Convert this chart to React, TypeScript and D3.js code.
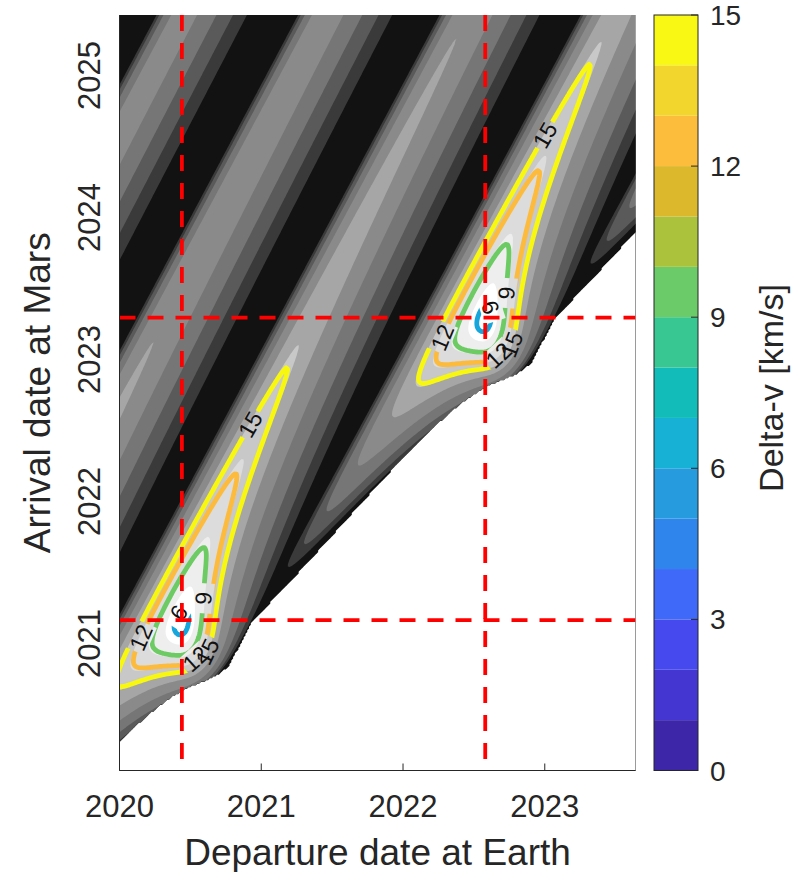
import React, { useMemo } from 'react';
import * as d3 from 'd3';

// ---------------- data ----------------
const departureTicks = [2020, 2021, 2022, 2023];
const arrivalTicks = [2021, 2022, 2023, 2024, 2025];
const departureRange = [2020.0, 2023.64];
const arrivalRange = [2020.106, 2025.426];
const hohmannDepartures = [2020.44, 2022.58];
const hohmannArrivals = [2021.165, 2023.295];
const lineLevels = [6, 9, 12, 15];
const lineColors = ['#17a6dc', '#6ccb62', '#fcbb3c', '#f7f70f'];
const colorbarTicks = [0, 3, 6, 9, 12, 15];
const colorbarColors = [
  '#3d26a8', '#4436d0', '#4649ee', '#3e69f9', '#2f85ec', '#269cdf', '#16b1d4', '#12bdb9',
  '#38c693', '#6bcb69', '#abc23c', '#dcb92c', '#fbbd3b', '#f3d62d', '#f9f815',
];
const fillThresholds = [7, 9.5, 12.5, 15.5, 20, 28, 38, 48, 57, 1e5];
const fillGrays = ['#eeeeee', '#dcdcdc', '#c8c8c8', '#a6a6a6', '#8a8a8a', '#767676', '#5a5a5a', '#3a3a3a', '#121212', '#ffffff'];
const labelLevel = [15, 12, 9, 6, 12, 15, 15, 12, 9, 6, 12, 15];
const labelDeparture = [2020.921, 2020.166, 2020.617, 2020.448, 2020.519, 2020.589, 2023.003, 2022.283, 2022.756, 2022.608, 2022.65, 2022.756];
const labelArrival = [2022.539, 2021.039, 2021.32, 2021.201, 2020.912, 2020.954, 2024.581, 2023.158, 2023.468, 2023.37, 2023.053, 2023.116];
const planetRadiusAU = [1.0, 1.52368];
const planetPeriodYr = [1.0, 1.88085];

// ---------------- physics (circular coplanar Lambert) ----------------
const MU = 4 * Math.PI * Math.PI; // AU^3/yr^2
const AUYR = 4.74047; // km/s per AU/yr

function tofNd(x: number, lam: number) {
  const om = 1 - x * x;
  const y = Math.sqrt(Math.max(0, 1 - lam * lam * om));
  if (Math.abs(om) < 1e-7) return (2 / 3) * (1 - lam * lam * lam);
  if (om > 0) {
    const cp = Math.min(1, Math.max(-1, x * y + lam * om));
    const psi = Math.acos(cp);
    return (psi / Math.sqrt(om) - x + lam * y) / om;
  }
  const ch = Math.max(1, x * y - lam * (x * x - 1));
  const psi = Math.acosh(ch);
  return (-psi / Math.sqrt(-om) + x - lam * y) / -om;
}

// returns total delta-v in km/s, or a huge value where no elliptic transfer exists
function deltaV(td: number, ta: number) {
  const tof = ta - td;
  if (tof <= 0.01) return 1e6;
  const r1 = planetRadiusAU[0], r2 = planetRadiusAU[1];
  const aH = (r1 + r2) / 2;
  const tH = 0.5 * Math.pow(aH, 1.5);
  const thE = (2 * Math.PI * (td - hohmannDepartures[0])) / planetPeriodYr[0];
  const thM = Math.PI + (2 * Math.PI * (ta - (hohmannDepartures[0] + tH))) / planetPeriodYr[1];
  let dth = (thM - thE) % (2 * Math.PI);
  if (dth < 0) dth += 2 * Math.PI;
  const c = Math.sqrt(r1 * r1 + r2 * r2 - 2 * r1 * r2 * Math.cos(dth));
  const s = (r1 + r2 + c) / 2;
  let lam = Math.sqrt(Math.max(0, 1 - c / s));
  if (dth > Math.PI) lam = -lam;
  const T = Math.sqrt((2 * MU) / (s * s * s)) * tof;
  if (T <= (2 / 3) * (1 - lam * lam * lam)) return 1e6;
  let lo = -25, hi = Math.log(2);
  for (let k = 0; k < 50; k++) {
    const mid = (lo + hi) / 2;
    const x = Math.exp(mid) - 1;
    if (tofNd(x, lam) > T) lo = mid; else hi = mid;
  }
  const x = Math.exp((lo + hi) / 2) - 1;
  const y = Math.sqrt(Math.max(0, 1 - lam * lam * (1 - x * x)));
  const gamma = Math.sqrt((MU * s) / 2);
  const rho = (r1 - r2) / Math.max(c, 1e-9);
  const sigma = Math.sqrt(Math.max(0, 1 - rho * rho));
  const vr1 = (gamma * ((lam * y - x) - rho * (lam * y + x))) / r1;
  const vr2 = (-gamma * ((lam * y - x) + rho * (lam * y + x))) / r2;
  const vt1 = (gamma * sigma * (y + lam * x)) / r1;
  const vt2 = (gamma * sigma * (y + lam * x)) / r2;
  const vE = Math.sqrt(MU / r1), vM = Math.sqrt(MU / r2);
  return (Math.hypot(vr1, vt1 - vE) + Math.hypot(vr2, vt2 - vM)) * AUYR;
}

// ---------------- layout ----------------
const W = 792, H = 872;
const PL = 119.5, PR = 635.5, PT = 15, PB = 770.5;
const CBL = 654, CBR = 698;
const FONT = '"Liberation Sans", Arial, Helvetica, sans-serif';
const INK = '#262626';

export default function App() {
  const xScale = d3.scaleLinear().domain(departureRange).range([PL, PR]);
  const yScale = d3.scaleLinear().domain(arrivalRange).range([PB, PT]);

  const model = useMemo(() => {
    const step = 0.0125;
    const gd0 = departureRange[0] - 0.1, gd1 = departureRange[1] + 0.1;
    const ga0 = arrivalRange[0] - 0.1, ga1 = arrivalRange[1] + 0.1;
    const nx = Math.round((gd1 - gd0) / step) + 1;
    const ny = Math.round((ga1 - ga0) / step) + 1;
    const arr: number[] = new Array(nx * ny);
    for (let j = 0; j < ny; j++) {
      const ta = ga0 + j * step;
      for (let i = 0; i < nx; i++) {
        arr[j * nx + i] = deltaV(gd0 + i * step, ta);
      }
    }
    const proj = d3.geoTransform({
      point(x: number, y: number) {
        (this as any).stream.point(xScale(gd0 + (x - 0.5) * step), yScale(ga0 + (y - 0.5) * step));
      },
    });
    const path = d3.geoPath(proj);
    const fills = d3.contours().size([nx, ny]).thresholds(fillThresholds)(arr);
    const lines = d3.contours().size([nx, ny]).thresholds(lineLevels)(arr);
    const toPx = (p: number[]) => [xScale(gd0 + (p[0] - 0.5) * step), yScale(ga0 + (p[1] - 0.5) * step)];
    const labels = labelLevel.map((lev, k) => {
      const li = lineLevels.indexOf(lev);
      const tx = xScale(labelDeparture[k]), ty = yScale(labelArrival[k]);
      let best = { d: Infinity, x: tx, y: ty, a: 0 };
      lines[li].coordinates.forEach((poly) =>
        poly.forEach((ring) => {
          const pts = ring.map(toPx);
          for (let q = 0; q < pts.length; q++) {
            const d = (pts[q][0] - tx) ** 2 + (pts[q][1] - ty) ** 2;
            if (d < best.d) {
              const p0 = pts[Math.max(0, q - 3)], p1 = pts[Math.min(pts.length - 1, q + 3)];
              let a = (Math.atan2(p1[1] - p0[1], p1[0] - p0[0]) * 180) / Math.PI;
              if (a > 90) a -= 180;
              if (a <= -90) a += 180;
              best = { d, x: pts[q][0], y: pts[q][1], a };
            }
          }
        })
      );
      return { lev, x: best.x, y: best.y, a: best.a };
    });
    return { fills: fills.map((f) => path(f as any)), lines: lines.map((f) => path(f as any)), labels };
  }, []);

  const cbScale = d3.scaleLinear().domain([0, 15]).range([PB, PT]);

  return (
    <svg width={W} height={H} style={{ position: 'absolute', left: 0, top: 0, background: '#fff' }} fontFamily={FONT}>
      <defs>
        <clipPath id="plotclip">
          <rect x={PL} y={PT} width={PR - PL} height={PB - PT} />
        </clipPath>
        <mask id="labelgap" maskUnits="userSpaceOnUse" x={0} y={0} width={W} height={H}>
          <rect x={0} y={0} width={W} height={H} fill="#fff" />
          {model.labels.map((l, k) => (
            <rect key={k} x={-15} y={-11} width={30} height={22} fill="#000" transform={`translate(${l.x},${l.y}) rotate(${l.a})`} />
          ))}
        </mask>
      </defs>
      <g clipPath="url(#plotclip)">
        <rect x={PL} y={PT} width={PR - PL} height={PB - PT} fill="#fff" />
        {model.fills.map((d, k) => (
          <path key={k} d={d || ''} fill={fillGrays[k]} stroke="none" />
        ))}
        <g mask="url(#labelgap)">
          {model.lines.map((d, k) => (
            <path key={k} d={d || ''} fill="none" stroke={lineColors[k]} strokeWidth={4.8} strokeLinejoin="round" />
          ))}
        </g>
        {model.labels.map((l, k) => (
          <text key={k} transform={`translate(${l.x},${l.y}) rotate(${l.a})`} textAnchor="middle" dy="0.36em" fontSize={23} fill="#111">
            {l.lev}
          </text>
        ))}
        {hohmannDepartures.map((t, k) => (
          <line key={'v' + k} x1={xScale(t)} x2={xScale(t)} y1={PT} y2={PB} stroke="#ff0000" strokeWidth={3.8} strokeDasharray="16 12" />
        ))}
        {hohmannArrivals.map((t, k) => (
          <line key={'h' + k} x1={PL} x2={PR} y1={yScale(t)} y2={yScale(t)} stroke="#ff0000" strokeWidth={3.8} strokeDasharray="16 12" />
        ))}
      </g>
      {/* axes */}
      <line x1={PL} x2={PR} y1={PB} y2={PB} stroke={INK} strokeWidth={1} />
      <line x1={PL} x2={PL} y1={PT} y2={PB} stroke={INK} strokeWidth={1} />
      {departureTicks.map((t) => (
        <g key={t}>
          <line x1={xScale(t)} x2={xScale(t)} y1={PB} y2={PB - 7} stroke={INK} />
          <text x={xScale(t)} y={817} textAnchor="middle" fontSize={31} fill={INK}>{t}</text>
        </g>
      ))}
      {arrivalTicks.map((t) => (
        <text key={t} transform={`translate(100,${yScale(t)}) rotate(-90)`} textAnchor="middle" fontSize={31} fill={INK}>{t}</text>
      ))}
      <text x={(PL + PR) / 2} y={865} textAnchor="middle" fontSize={37} fill={INK}>Departure date at Earth</text>
      <text transform={`translate(50,${(PT + PB) / 2}) rotate(-90)`} textAnchor="middle" fontSize={37} fill={INK}>Arrival date at Mars</text>
      {/* colorbar */}
      {colorbarColors.map((c, k) => (
        <rect key={k} x={CBL} width={CBR - CBL} y={cbScale(k + 1)} height={cbScale(k) - cbScale(k + 1)} fill={c} />
      ))}
      <rect x={CBL} y={PT} width={CBR - CBL} height={PB - PT} fill="none" stroke={INK} strokeWidth={1} />
      {colorbarTicks.map((t) => (
        <g key={t}>
          <line x1={CBR} x2={CBR - 7} y1={cbScale(t)} y2={cbScale(t)} stroke={INK} />
          <text x={710} y={cbScale(t)} dy="0.36em" fontSize={28} fill={INK}>{t}</text>
        </g>
      ))}
      <text transform={`translate(783,388) rotate(-90)`} textAnchor="middle" fontSize={34} fill={INK}>Delta-v [km/s]</text>
    </svg>
  );
}
